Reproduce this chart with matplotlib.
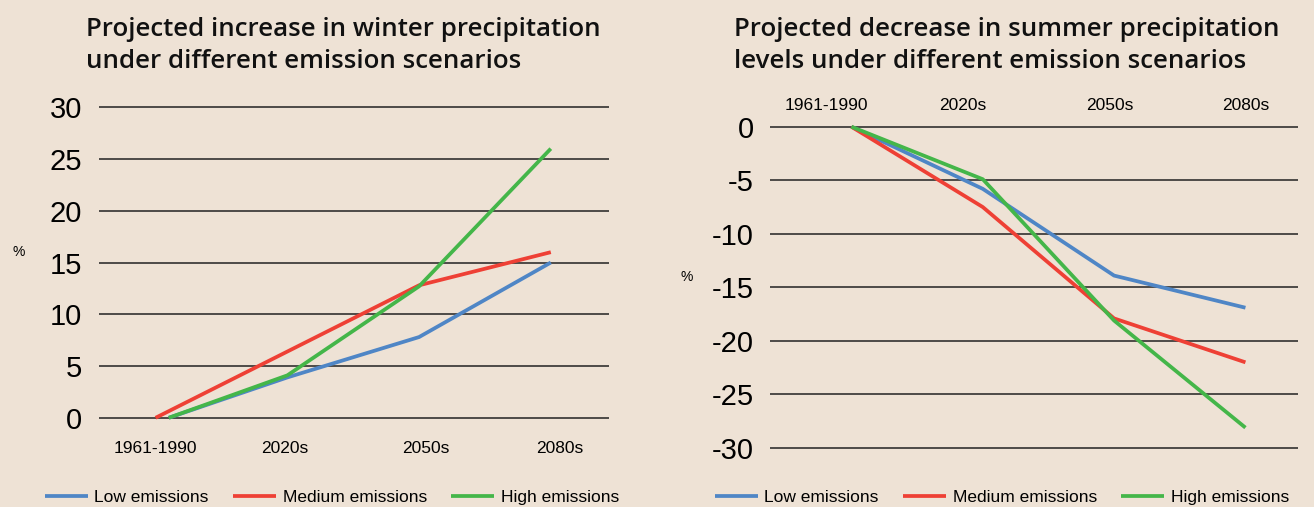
import matplotlib.pyplot as plt

plt.rcParams['font.family'] = ['Liberation Sans', 'DejaVu Sans']
plt.rcParams['axes.unicode_minus'] = False

periods = ['1961-1990', '2020s', '2050s', '2080s']
series_names = ['Low emissions', 'Medium emissions', 'High emissions']

# winter precipitation change (%)
winter_x = {
    'Low emissions': [0.1, 1, 2, 3],
    'Medium emissions': [0, 1, 2, 3],
    'High emissions': [0.1, 1, 2, 3],
}
winter = {
    'Low emissions': [0, 3.9, 7.8, 15],
    'Medium emissions': [0, 6.4, 12.8, 16],
    'High emissions': [0, 4.1, 12.7, 26],
}

# summer precipitation change (%)
summer_x = [0, 1, 2, 3]
summer = {
    'Low emissions': [0, -5.8, -13.9, -16.9],
    'Medium emissions': [0, -7.5, -17.9, -22],
    'High emissions': [0, -4.9, -18.1, -28.1],
}

colors = {'Low emissions': '#4f86c6',
          'Medium emissions': '#ee4035',
          'High emissions': '#44b649'}
bg = '#eee2d5'

fig = plt.figure(figsize=(13.14, 5.07), dpi=100, facecolor=bg)

def style(ax):
    ax.set_facecolor('none')
    for s in ax.spines.values():
        s.set_visible(False)
    ax.grid(axis='y', color='#222222', lw=1.1)
    ax.grid(axis='x', visible=False)
    ax.set_axisbelow(True)
    ax.tick_params(length=0)

title_kw = dict(ha='left', va='top', fontsize=18.6, linespacing=1.38,
                color='#111111', family=['Open Sans', 'Liberation Sans'],
                weight='semibold')

# left: winter
axL = fig.add_axes([0.0753, 0.1637, 0.388, 0.637])
style(axL)
for name in series_names:
    axL.plot(winter_x[name], winter[name], color=colors[name], lw=2.7,
             label=name, solid_capstyle='butt')
axL.set_xlim(-0.43, 3.44)
axL.set_ylim(-0.6, 30.6)
axL.set_yticks([0, 5, 10, 15, 20, 25, 30])
axL.set_xticks([0, 0.98, 2.05, 3.07])
axL.set_xticklabels(periods)
axL.tick_params(axis='y', labelsize=21, pad=12)
axL.tick_params(axis='x', labelsize=12.5, pad=12)

fig.text(86 / 1314, 1 - 17 / 507,
         'Projected increase in winter precipitation\nunder different emission scenarios',
         **title_kw)
fig.text(19 / 1314, 1 - 252 / 507, '%', ha='center', va='center', fontsize=10)

# right: summer
axR = fig.add_axes([0.586, 0.1037, 0.4018, 0.659])
style(axR)
for name in series_names:
    axR.plot(summer_x, summer[name], color=colors[name], lw=2.7,
             label=name, solid_capstyle='butt')
axR.set_xlim(-0.62, 3.40)
axR.set_ylim(-30.6, 0.6)
axR.set_yticks([0, -5, -10, -15, -20, -25, -30])
axR.xaxis.tick_top()
axR.set_xticks([-0.19, 0.85, 1.97, 3.0])
axR.set_xticklabels(periods)
axR.tick_params(axis='y', labelsize=21, pad=11.5)
axR.tick_params(axis='x', labelsize=12.5, pad=5)

fig.text(734 / 1314, 1 - 17 / 507,
         'Projected decrease in summer precipitation\nlevels under different emission scenarios',
         **title_kw)
fig.text(687 / 1314, 1 - 277 / 507, '%', ha='center', va='center', fontsize=10)

# legends
for ax, x0 in [(axL, 45 / 1314), (axR, 715 / 1314)]:
    h, l = ax.get_legend_handles_labels()
    fig.legend(h, l, loc='center left', bbox_to_anchor=(x0, 10 / 507),
               ncol=3, frameon=False, fontsize=12.5, handlelength=2.45,
               handletextpad=0.4, columnspacing=1.4, borderpad=0,
               borderaxespad=0)

fig.savefig('out.png', dpi=100, facecolor=bg)
